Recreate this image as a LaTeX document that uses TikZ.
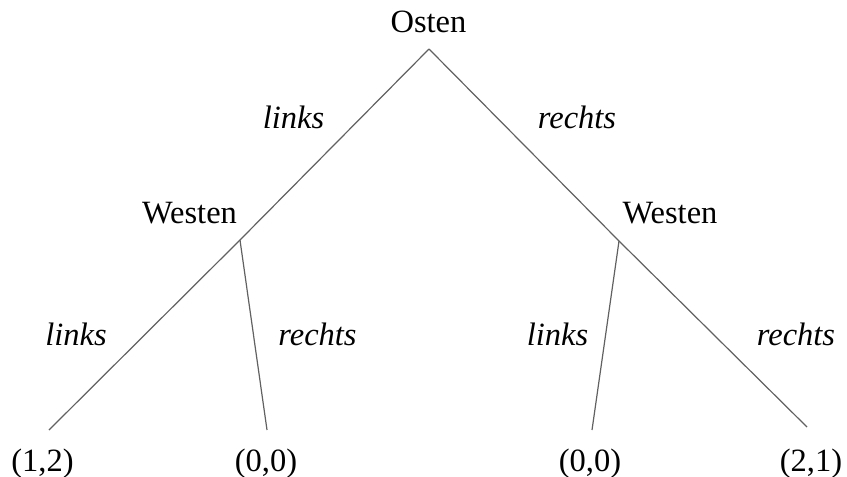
\documentclass[tikz,border=0pt]{standalone}
\usepackage{fontspec}
\setmainfont{Liberation Serif}
\begin{document}
\begin{tikzpicture}[x=1pt,y=-1pt,
  lbl/.style={inner sep=0pt,anchor=base,font=\fontsize{32.5}{36}\selectfont},
  ilbl/.style={lbl,font=\fontsize{32.5}{36}\selectfont\itshape},
  edge/.style={draw=black!62,line width=1.2pt}]
\useasboundingbox (0,0) rectangle (847,477);
\node[lbl] (osten) at (428.5,32) {Osten};
\node[lbl] (westenL) at (189.5,223) {Westen};
\node[lbl] (westenR) at (670,223) {Westen};
\node[ilbl] (l1) at (293.5,128) {links};
\node[ilbl] (r1) at (577,128) {rechts};
\node[ilbl] (l2) at (76,345) {links};
\node[ilbl] (r2) at (317.5,345) {rechts};
\node[ilbl] (l3) at (557.5,345) {links};
\node[ilbl] (r3) at (796,345) {rechts};
\node[lbl] (p12) at (42.5,471) {(1,2)};
\node[lbl] (p00a) at (266,471) {(0,0)};
\node[lbl] (p00b) at (590,471) {(0,0)};
\node[lbl] (p21) at (811,471) {(2,1)};
\coordinate (top) at (429,49);
\coordinate (wl) at (240,240);
\coordinate (wr) at (619,241);
\coordinate (b1) at (49,430);
\coordinate (b2) at (267,430);
\coordinate (b3) at (592,430);
\coordinate (b4) at (807,427);
\draw[edge] (top) -- (wl) -- (b1);
\draw[edge] (wl) -- (b2);
\draw[edge] (top) -- (wr) -- (b4);
\draw[edge] (wr) -- (b3);
\end{tikzpicture}
\end{document}
